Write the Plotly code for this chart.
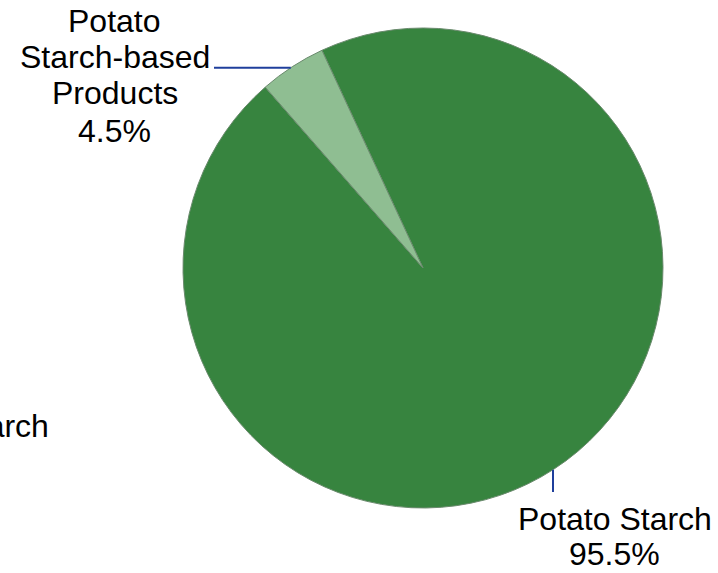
import plotly.graph_objects as go
import math

# ---- data ----
labels = ["Potato Starch", "Potato Starch-based Products"]
values = [95.5, 4.5]
label_lines = [["Potato Starch", "95.5%"], ["Potato", "Starch-based", "Products", "4.5%"]]
legend_text = "Potato Starch"

# ---- layout constants ----
W, H = 718, 573
CX, CY, R = 423, 268, 240
ROT = -24.9
FONT = dict(family="Liberation Sans, Arial, sans-serif", size=32, color="#000000")
LEADER = "#1f3f9c"
colors = ["#37843f", "#8fbe92"]


def px(x):
    return x / W


def py(y):
    return 1 - y / H


fig = go.Figure()
fig.add_trace(go.Pie(
    labels=labels,
    values=values,
    sort=False,
    direction="clockwise",
    rotation=ROT,
    textinfo="none",
    hoverinfo="label+percent",
    marker=dict(colors=colors, line=dict(color="#6a8a6d", width=1)),
    domain=dict(x=[px(CX - R), px(CX + R)], y=[py(CY + R), py(CY - R)]),
    showlegend=False,
))

annotations = []
# bottom-right label (Potato Starch)
for txt, cy in zip(label_lines[0], [518.5, 554.0]):
    annotations.append(dict(x=px(614.5), y=py(cy), xref="paper", yref="paper",
                            text=txt, showarrow=False, xanchor="center",
                            yanchor="middle", font=FONT, borderpad=0))
# top-left label (products)
for txt, cy in zip(label_lines[1], [21.3, 56.7, 93.3, 130.7]):
    annotations.append(dict(x=px(114.8), y=py(cy), xref="paper", yref="paper",
                            text=txt, showarrow=False, xanchor="center",
                            yanchor="middle", font=FONT, borderpad=0))
# legend text, clipped at the left edge as in the reference
annotations.append(dict(x=px(50), y=py(425.6), xref="paper", yref="paper",
                        text=legend_text, showarrow=False, xanchor="right",
                        yanchor="middle", font=FONT, borderpad=0))

# leader lines to the pie rim
y1 = 67.7
x1 = CX - math.sqrt(R ** 2 - (CY - y1) ** 2)
x2 = 553
y2 = CY + math.sqrt(R ** 2 - (x2 - CX) ** 2)
shapes = [
    dict(type="line", xref="paper", yref="paper", x0=px(214), y0=py(y1),
         x1=px(x1), y1=py(y1), line=dict(color=LEADER, width=2)),
    dict(type="line", xref="paper", yref="paper", x0=px(x2), y0=py(y2),
         x1=px(x2), y1=py(492), line=dict(color=LEADER, width=2)),
]

fig.update_layout(
    width=W, height=H,
    margin=dict(l=0, r=0, t=0, b=0),
    paper_bgcolor="#ffffff",
    plot_bgcolor="#ffffff",
    annotations=annotations,
    shapes=shapes,
    showlegend=False,
)

fig.write_html(
    "out.html",
    config={"displayModeBar": False},
    post_script="document.body.style.margin='0';document.body.style.overflow='hidden';",
)
